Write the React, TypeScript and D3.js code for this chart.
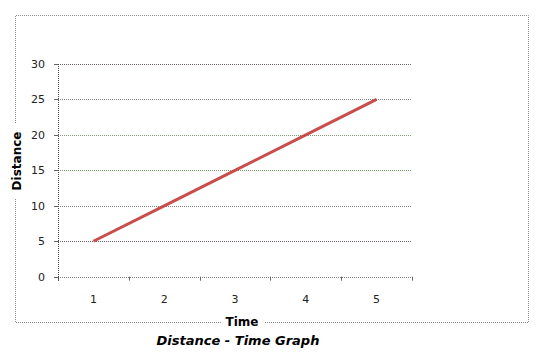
import React from "react";
import * as d3 from "d3";

const times = [1, 2, 3, 4, 5];
const distances = [5, 10, 15, 20, 25];
const yTicks = [0, 5, 10, 15, 20, 25, 30];
const gridColors = ["#6e6078", "#7e7e7e", "#7a9a6a", "#82987a", "#7e7e7e", "#6e6078"];

export default function App() {
  const W = 538, H = 357;
  const left = 58, right = 412, top = 64, bottom = 276.7;
  const x = d3.scaleBand<number>().domain(times).range([left, right]);
  const y = d3.scaleLinear().domain([0, 30]).range([bottom, top]);
  const line = d3
    .line<number>()
    .x((_, i) => (x(times[i]) as number) + x.bandwidth() / 2)
    .y((d) => y(d));
  const font = "Tahoma, 'DejaVu Sans', Verdana, sans-serif";
  const borderColor = "#8a8a8a";
  return (
    <svg width={W} height={H} style={{ position: "absolute", left: 0, top: 0, background: "#fff" }}>
      <g stroke={borderColor} strokeWidth={1} strokeDasharray="1,1" fill="none">
        <path d="M15.5,123 L15.5,15.5 L528.5,15.5 L528.5,322.5 L264,322.5" />
        <path d="M221,322.5 L15.5,322.5 L15.5,198" />
      </g>
      {yTicks.slice(1).map((t, i) => (
        <line
          key={t}
          x1={left}
          x2={right}
          y1={Math.round(y(t)) + 0.5}
          y2={Math.round(y(t)) + 0.5}
          stroke={gridColors[i]}
          strokeWidth={1}
          strokeDasharray="1,1"
        />
      ))}
      <line x1={left} x2={right} y1={Math.round(bottom) + 0.5} y2={Math.round(bottom) + 0.5} stroke="#7e7e7e" strokeDasharray="1,1" />
      {[...times.map((t) => x(t) as number), right].map((v, i) => (
        <line key={i} x1={Math.round(v) + 0.5} x2={Math.round(v) + 0.5} y1={bottom} y2={bottom + 4} stroke="#666" />
      ))}
      <line x1={left + 0.5} x2={left + 0.5} y1={top} y2={bottom + 4} stroke="#444" strokeDasharray="1,1" />
      {yTicks.map((t) => (
        <line key={t} x1={left - 4} x2={left} y1={Math.round(y(t)) + 0.5} y2={Math.round(y(t)) + 0.5} stroke="#666" />
      ))}
      {yTicks.map((t) => (
        <text key={t} x={45} y={y(t)} dy="0.35em" textAnchor="end" fontFamily={font} fontSize={11} fill="#222">
          {t}
        </text>
      ))}
      {times.map((t) => (
        <text
          key={t}
          x={(x(t) as number) + x.bandwidth() / 2}
          y={299}
          dy="0.35em"
          textAnchor="middle"
          fontFamily={font}
          fontSize={11}
          fill="#222"
        >
          {t}
        </text>
      ))}
      <path d={line(distances) || ""} fill="none" stroke="#c43a3a" strokeWidth={3} strokeOpacity={0.9} />
      <text
        transform="translate(17,161) rotate(-90)"
        dy="0.35em"
        textAnchor="middle"
        fontFamily={font}
        fontWeight="bold"
        fontSize={12}
        fill="#000"
      >
        Distance
      </text>
      <text x={242} y={322} dy="0.35em" textAnchor="middle" fontFamily={font} fontWeight="bold" fontSize={12} fill="#000">
        Time
      </text>
      <text
        x={238}
        y={340}
        dy="0.35em"
        textAnchor="middle"
        fontFamily={font}
        fontWeight="bold"
        fontStyle="italic"
        fontSize={13}
        fill="#000"
      >
        Distance - Time Graph
      </text>
    </svg>
  );
}
